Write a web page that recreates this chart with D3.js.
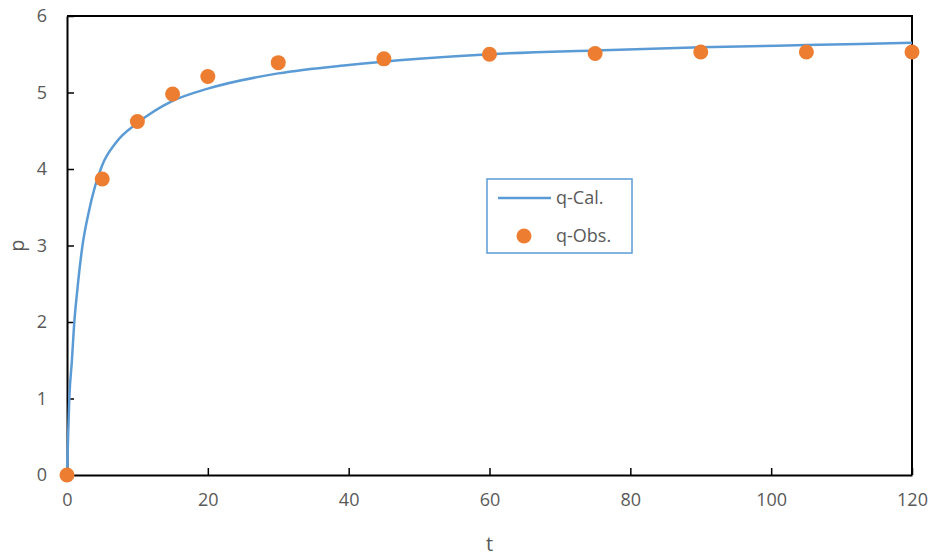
<!DOCTYPE html>
<html>
<head>
<meta charset="utf-8">
<script src="https://cdn.jsdelivr.net/npm/d3@7"></script>
<style>
  body { margin: 0; background: #fff; }
  svg text { font-family: "Open Sans", "Liberation Sans", sans-serif; fill: #595959; }
</style>
</head>
<body>
<svg id="chart" width="933" height="556"></svg>
<script>
// observed points
const obsT = [0, 5, 10, 15, 20, 30, 45, 60, 75, 90, 105, 120]
const obsQ = [0, 3.87, 4.62, 4.98, 5.21, 5.39, 5.44, 5.50, 5.51, 5.53, 5.53, 5.53]
// calculated curve
const calT = [0, 0.15, 0.33, 0.7, 1, 1.5, 2.2, 3, 4, 5, 7, 10, 15, 20, 30, 40, 50, 60, 75, 90, 105, 120]
const calQ = [0, 0.48, 1.0, 1.5, 1.95, 2.45, 3.0, 3.4, 3.78, 4.05, 4.35, 4.6, 4.89, 5.05, 5.25, 5.36, 5.44, 5.50, 5.55, 5.59, 5.62, 5.65]
const xTicks = [0, 20, 40, 60, 80, 100, 120]
const yTicks = [0, 1, 2, 3, 4, 5, 6]

const blue = "#5B9BD5", orange = "#ED7D31"
const svg = d3.select("#chart")
const margin = {left: 67, right: 21, top: 16, bottom: 81}
const W = 933, H = 556

const x = d3.scaleLinear().domain([0, 120]).range([margin.left, W - margin.right])
const y = d3.scaleLinear().domain([0, 6]).range([H - margin.bottom, margin.top])

// axes with inward ticks
svg.append("g")
  .attr("transform", `translate(0,${y(0)})`)
  .call(d3.axisBottom(x).tickValues(xTicks).tickFormat(d3.format("d")).tickSizeInner(-7).tickSizeOuter(0).tickPadding(18))
  .call(g => g.select(".domain").attr("stroke", "#000").attr("stroke-width", 2))
  .call(g => g.selectAll(".tick line").attr("stroke", "#000").attr("stroke-width", 1.5))
  .call(g => g.selectAll("text").style("font-size", "18px").attr("fill", "#595959"))

svg.append("g")
  .attr("transform", `translate(${x(0)},0)`)
  .call(d3.axisLeft(y).tickValues(yTicks).tickFormat(d3.format("d")).tickSizeInner(-7).tickSizeOuter(0).tickPadding(20))
  .call(g => g.select(".domain").attr("stroke", "#000").attr("stroke-width", 2))
  .call(g => g.selectAll(".tick line").attr("stroke", "#000").attr("stroke-width", 1.5))
  .call(g => g.selectAll("text").style("font-size", "18px").attr("fill", "#595959"))

// top and right frame
svg.append("path")
  .attr("d", `M${x(0)},${y(6)}H${x(120)}V${y(0)}`)
  .attr("fill", "none").attr("stroke", "#000").attr("stroke-width", 2)

// axis titles
svg.append("text").attr("x", x(60)).attr("y", 551).attr("text-anchor", "middle")
  .style("font-size", "20px").text("t")
svg.append("text").attr("transform", `translate(24,${y(3)}) rotate(-90)`)
  .attr("text-anchor", "middle").style("font-size", "20px").text("p")

// curve
const cal = calT.map((t, i) => [t, calQ[i]])
svg.append("path")
  .datum(cal)
  .attr("fill", "none").attr("stroke", blue).attr("stroke-width", 2.5)
  .attr("d", d3.line().x(d => x(d[0])).y(d => y(d[1])).curve(d3.curveMonotoneX))

// points
svg.append("g").selectAll("circle")
  .data(obsT.map((t, i) => [t, obsQ[i]]))
  .join("circle")
  .attr("cx", d => x(d[0])).attr("cy", d => y(d[1])).attr("r", 7.5)
  .attr("fill", orange)

// legend
const lg = svg.append("g")
lg.append("rect").attr("x", 487).attr("y", 179).attr("width", 145).attr("height", 74)
  .attr("fill", "#fff").attr("stroke", blue).attr("stroke-width", 1.5)
lg.append("line").attr("x1", 498).attr("x2", 551).attr("y1", 198).attr("y2", 198)
  .attr("stroke", blue).attr("stroke-width", 2.5)
lg.append("circle").attr("cx", 524).attr("cy", 236).attr("r", 7.5).attr("fill", orange)
lg.append("text").attr("x", 556).attr("y", 198).attr("dy", "0.35em").style("font-size", "18px").text("q-Cal.")
lg.append("text").attr("x", 556).attr("y", 236).attr("dy", "0.35em").style("font-size", "18px").text("q-Obs.")
</script>
</body>
</html>
